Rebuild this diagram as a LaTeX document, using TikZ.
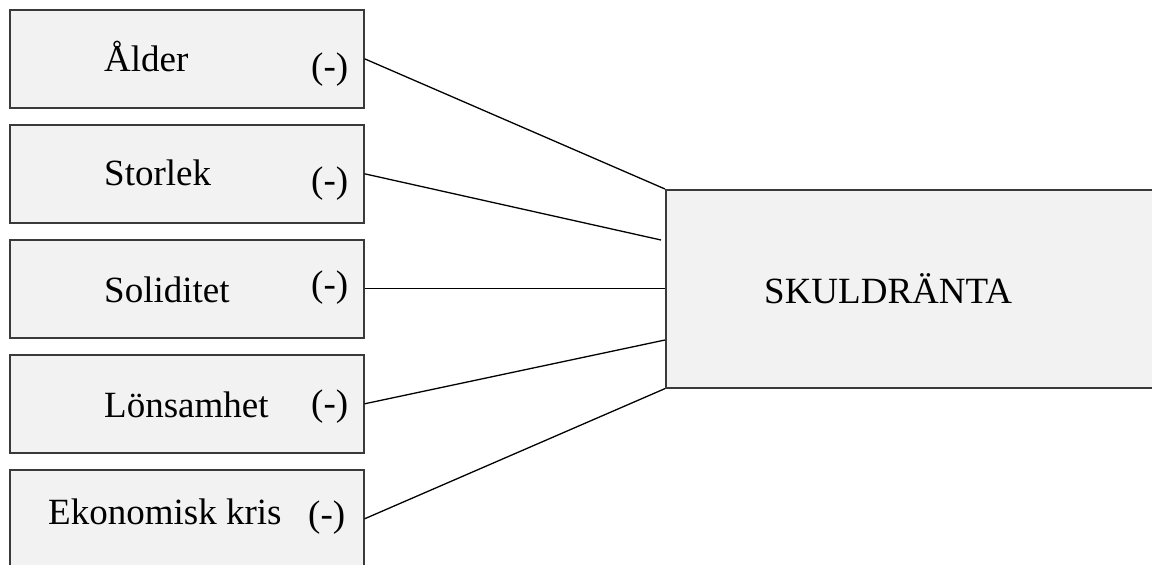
\documentclass[tikz,border=0pt]{standalone}
\usepackage{fontspec}
\setmainfont{Liberation Serif}
\definecolor{boxfill}{HTML}{F2F2F2}
\definecolor{boxline}{HTML}{3A3A3A}
\begin{document}
\begin{tikzpicture}[x=1pt,y=-1pt,
  factor/.style={draw=boxline,fill=boxfill,line width=1.6pt,rectangle,inner sep=0pt,
    minimum width=354pt,minimum height=98pt,anchor=north west},
  lbl/.style={anchor=base west,inner sep=0pt,font=\fontsize{37}{44}\selectfont},
  link/.style={draw=black,line width=1.3pt}]
\useasboundingbox (0,0) rectangle (1152,565);
\clip (0,0) rectangle (1152,565);
\node[factor] (b1) at (9,9) {};
\node[factor] (b2) at (9,124) {};
\node[factor] (b3) at (9,239) {};
\node[factor] (b4) at (9,354) {};
\node[factor] (b5) at (9,469) {};
\node[draw=boxline,fill=boxfill,line width=1.6pt,rectangle,inner sep=0pt,
  minimum width=520pt,minimum height=198pt,anchor=north west] (big) at (665,189) {};
\node[lbl] (t1) at (104,71) {Ålder};
\node[lbl] (m1) at (311,78) {(-)};
\node[lbl] (t2) at (104,185) {Storlek};
\node[lbl] (m2) at (311,192) {(-)};
\node[lbl] (t3) at (104,302) {Soliditet};
\node[lbl] (m3) at (311,296) {(-)};
\node[lbl] (t4) at (104,417) {Lönsamhet};
\node[lbl] (m4) at (311,415) {(-)};
\node[lbl] (t5) at (48,524) {Ekonomisk kris};
\node[lbl] (m5) at (308,526) {(-)};
\node[lbl] (tb) at (764,303) {SKULDRÄNTA};
\coordinate (e2) at (661,240);
\coordinate (e4) at (665,340);
\draw[link] (b1.east) -- (big.north west);
\draw[link] (b2.east) -- (e2);
\draw[link] (b3.east) -- (big.west);
\draw[link] (b4.east) -- (e4);
\draw[link] (b5.east) -- (big.south west);
\end{tikzpicture}
\end{document}
